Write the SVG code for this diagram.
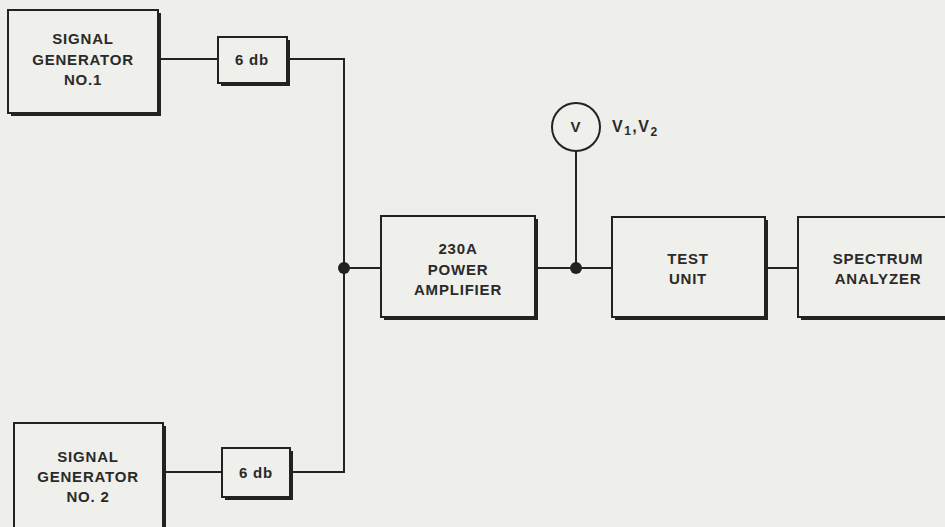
<svg xmlns="http://www.w3.org/2000/svg" width="945" height="527" viewBox="0 0 945 527">
<style>
.bg{fill:#eeeeea}
.box{fill:#efefeb;stroke:#222;stroke-width:2}
.sh{fill:#222}
.ln{fill:none;stroke:#222;stroke-width:2}
.dot{fill:#222}
text{font-family:"Liberation Sans",Arial,sans-serif;font-weight:bold;font-size:15px;fill:#2a2a2a;text-anchor:middle;letter-spacing:0.8px}
</style>
<rect class="bg" x="0" y="0" width="945" height="527"/>
<g id="connectors">
<polyline class="ln" points="158,59 218,59"/>
<polyline class="ln" points="287,59 344,59 344,472 290,472"/>
<polyline class="ln" points="163,472 222,472"/>
<polyline class="ln" points="344,268 381,268"/>
<polyline class="ln" points="535,268 612,268"/>
<polyline class="ln" points="576,268 576,151"/>
<polyline class="ln" points="765,268 798,268"/>
<circle class="dot" cx="344" cy="268" r="6"/>
<circle class="dot" cx="576" cy="268" r="6"/>
</g>
<g id="sg1">
<rect class="sh" x="11" y="13" width="150" height="103"/>
<rect class="box" x="8" y="10" width="150" height="103"/>
<text x="83" y="44">SIGNAL</text>
<text x="83" y="65">GENERATOR</text>
<text x="83" y="85">NO.1</text>
</g>
<g id="att1">
<rect class="sh" x="221" y="40" width="69" height="46"/>
<rect class="box" x="218" y="37" width="69" height="46"/>
<text x="252" y="65">6 db</text>
</g>
<g id="sg2">
<rect class="sh" x="17" y="426" width="149" height="110"/>
<rect class="box" x="14" y="423" width="149" height="110"/>
<text x="88" y="462">SIGNAL</text>
<text x="88" y="482">GENERATOR</text>
<text x="88" y="502">NO. 2</text>
</g>
<g id="att2">
<rect class="sh" x="225" y="451" width="68" height="49"/>
<rect class="box" x="222" y="448" width="68" height="49"/>
<text x="256" y="478">6 db</text>
</g>
<g id="amp">
<rect class="sh" x="384" y="219" width="154" height="101"/>
<rect class="box" x="381" y="216" width="154" height="101"/>
<text x="458" y="254">230A</text>
<text x="458" y="275">POWER</text>
<text x="458" y="295">AMPLIFIER</text>
</g>
<g id="voltmeter">
<circle cx="576" cy="127" r="24" fill="#efefeb" stroke="#222" stroke-width="2"/>
<text x="576" y="132" font-size="14">V</text>
<text x="612" y="132" style="text-anchor:start;font-size:16px;letter-spacing:1.5px">V<tspan font-size="12" dy="3">1</tspan><tspan dy="-3">,V</tspan><tspan font-size="12" dy="4">2</tspan></text>
</g>
<g id="test">
<rect class="sh" x="615" y="220" width="153" height="100"/>
<rect class="box" x="612" y="217" width="153" height="100"/>
<text x="688" y="264">TEST</text>
<text x="688" y="284">UNIT</text>
</g>
<g id="spectrum">
<rect class="sh" x="801" y="220" width="160" height="100"/>
<rect class="box" x="798" y="217" width="160" height="100"/>
<text x="878" y="264">SPECTRUM</text>
<text x="878" y="284">ANALYZER</text>
</g>
</svg>
